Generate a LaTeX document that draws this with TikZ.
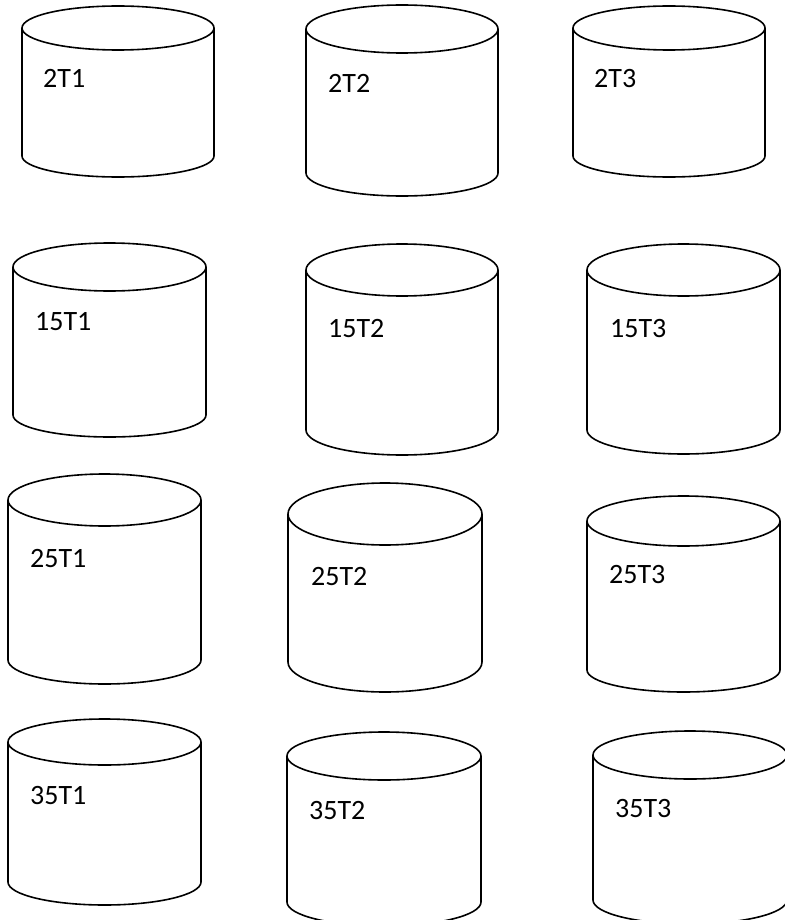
\documentclass[tikz,border=0pt]{standalone}
\usepackage{fontspec}
\setmainfont{Carlito}
\tikzset{
  drumline/.style={line width=1.6pt, draw=black},
  lbl/.style={font=\fontsize{28}{30}\selectfont, inner sep=0pt, text=black}
}
% #1 label, #2 left, #3 right, #4 top centre y, #5 top ry, #6 bottom centre y, #7 bottom ry, #8 text x, #9 text baseline y
\newcommand\drum[9]{%
  \pgfmathsetmacro\dcx{(#2+#3)/2}%
  \pgfmathsetmacro\drx{(#3-#2)/2}%
  \draw[drumline] (\dcx,#4) ellipse [x radius=\drx, y radius=#5];
  \draw[drumline] (#2,#4) -- (#2,#6) arc[start angle=180, end angle=0, x radius=\drx, y radius=#7] -- (#3,#4);
  \node[lbl, anchor=base west] (l#1) at (#8,#9) {#1};
}
\begin{document}
\begin{tikzpicture}[x=1pt, y=-1pt]
\useasboundingbox (0,0) rectangle (784,920);
\fill[white] (0,0) rectangle (784,920);
\drum{2T1}{22}{214}{28}{22}{156}{21}{43}{88}
\drum{2T2}{306}{498}{29}{24}{173}{23}{328}{93}
\drum{2T3}{573}{765}{28}{22}{156}{21}{594}{88}
\drum{15T1}{13}{206}{267}{24}{415}{22}{35}{330}
\drum{15T2}{306}{498}{270}{26}{430}{25}{328}{337}
\drum{15T3}{587}{780}{270}{26}{430}{24}{610}{337}
\drum{25T1}{8}{201}{500}{26}{660}{24}{30}{567}
\drum{25T2}{288}{482}{514}{31}{662}{30}{311}{585}
\drum{25T3}{587}{780}{521}{25}{670}{22}{609}{583}
\drum{35T1}{8}{201}{742}{23}{882}{23}{30}{804}
\drum{35T2}{287}{481}{756}{24}{902}{24}{309}{819}
\drum{35T3}{593}{787}{755}{24}{900}{24}{615}{817}
\end{tikzpicture}
\end{document}
